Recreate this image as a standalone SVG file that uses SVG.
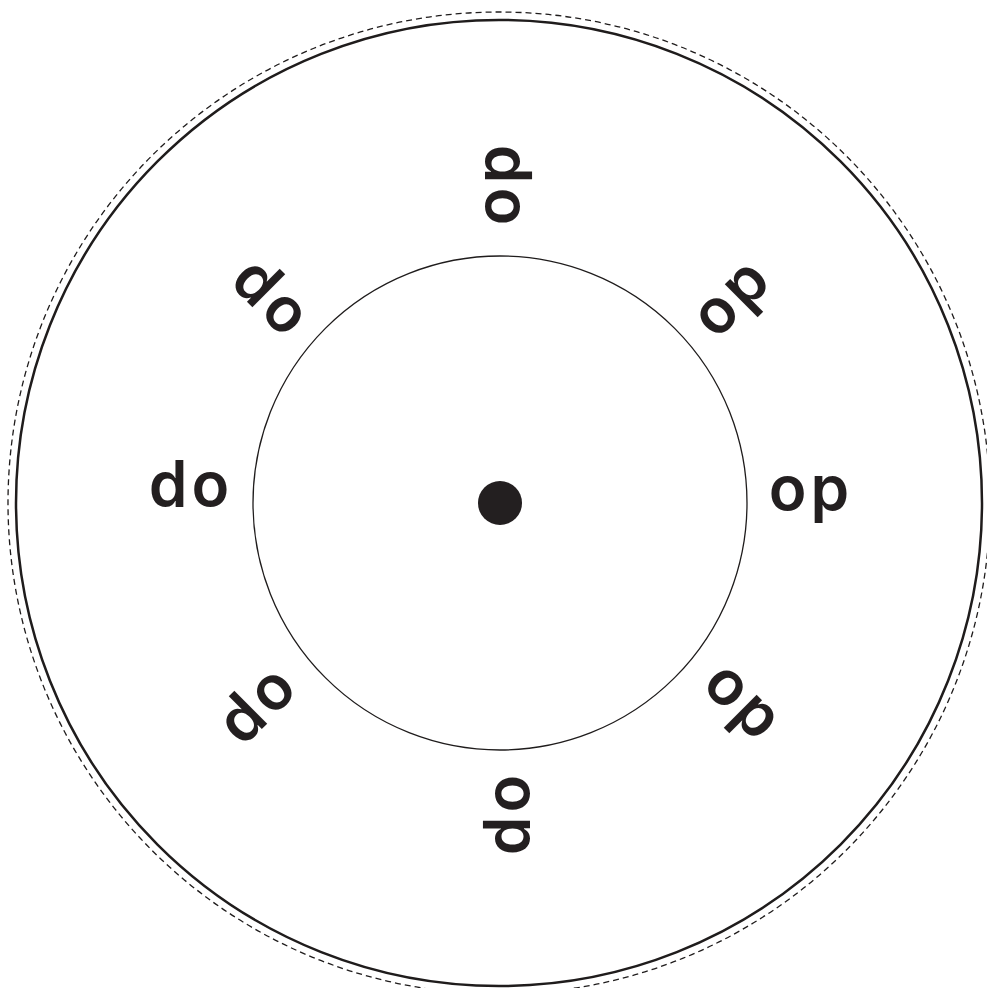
<svg xmlns="http://www.w3.org/2000/svg" width="987" height="988" viewBox="0 0 987 988">
<style>
.ring{fill:none;stroke:#1f1c1c}
.lbl{font-family:"Inter","Lato","Liberation Sans",sans-serif;font-weight:600;font-size:62px;fill:#231f20;text-anchor:middle;letter-spacing:4px}
</style>
<rect width="987" height="988" fill="#fff"/>
<g id="rings">
<circle class="ring" cx="499" cy="503" r="491" stroke-width="1.3" stroke-dasharray="6 4"/>
<circle class="ring" cx="499" cy="503" r="483" stroke-width="2.5"/>
<circle class="ring" cx="500" cy="503" r="247" stroke-width="1.3"/>
</g>
<g id="hub"><circle cx="500" cy="503" r="22" fill="#231f20"/></g>
<g id="label-e" transform="translate(811,510) rotate(0)"><text class="lbl">op</text></g>
<g id="label-se" transform="translate(730,716) rotate(45)"><text class="lbl">op</text></g>
<g id="label-s" transform="translate(496,817) rotate(90)"><text class="lbl">op</text></g>
<g id="label-sw" transform="translate(246,697) rotate(135)"><text class="lbl">op</text></g>
<g id="label-w" transform="translate(187,473) rotate(180)"><text class="lbl">op</text></g>
<g id="label-nw" transform="translate(279,286) rotate(-135)"><text class="lbl">op</text></g>
<g id="label-n" transform="translate(519,183) rotate(-90)"><text class="lbl">op</text></g>
<g id="label-ne" transform="translate(746,311) rotate(-45)"><text class="lbl">op</text></g>
</svg>
